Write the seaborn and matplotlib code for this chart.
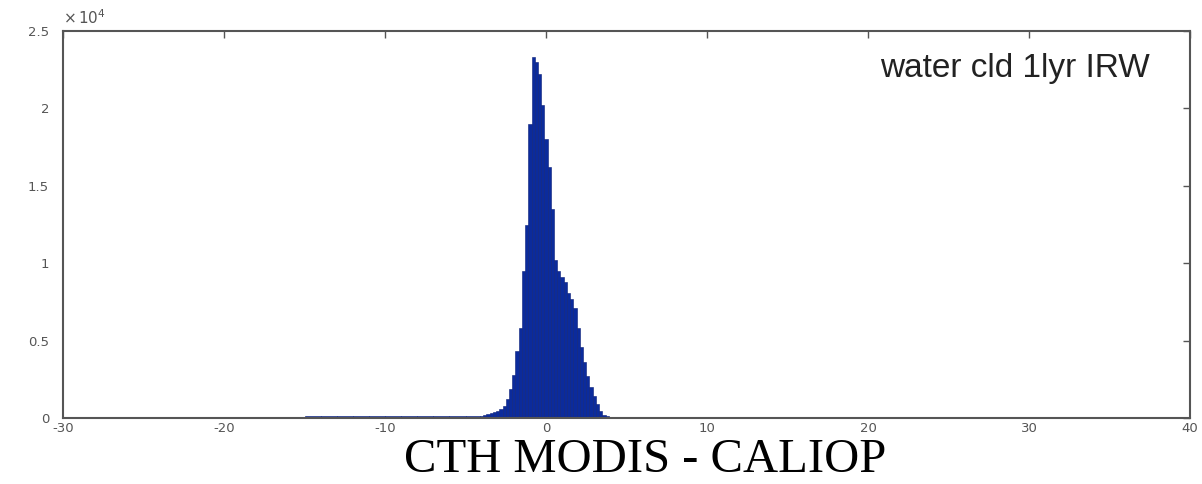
import numpy as np
import pandas as pd
import matplotlib
matplotlib.use("Agg")
import matplotlib.pyplot as plt
import seaborn as sns

# ---- data ----
# left tail: 1-unit bins from -18 to -5, then -5..-4.1
left_edges = [-18, -17, -16, -15, -14, -13, -12, -11, -10, -9, -8, -7, -6, -5, -4.1]
left_counts = [60, 40, 80, 110, 120, 120, 120, 120, 110, 110, 110, 110, 120, 150]
# core: 0.2-wide bins centred on -4.0 ... 3.8
core_counts = [150, 180, 230, 300, 370,
               450, 560, 800, 1250, 1900, 2800, 4300, 5800, 9500, 12500,
               19000, 23300, 23000, 22200, 20200, 18000, 16200, 13500, 10200, 9500,
               9100, 8800, 8100, 7700, 7100, 5800, 4600, 3600, 2700, 2000,
               1400, 900, 450, 200, 100]
# right tail: bins from 3.9 to 38
right_edges = [3.9, 5, 6, 7, 8, 9, 10, 11, 12, 13, 14, 15, 16, 17, 18, 19, 20,
               21, 22, 23, 24, 25, 26, 27, 28, 29, 30, 31, 32, 33, 34, 35, 36, 37, 38]
right_counts = [90, 70, 60, 40, 30, 30, 25, 25, 25, 25, 25, 25, 25, 25, 25, 25,
                25, 25, 25, 25, 25, 25, 25, 25, 25, 25, 25, 25, 25, 25, 25, 25, 20, 20]

x_ticks = [-30, -20, -10, 0, 10, 20, 30, 40]
y_ticks = [0, 5000, 10000, 15000, 20000, 25000]
y_tick_labels = ["0", "0.5", "1", "1.5", "2", "2.5"]
annot = "water cld 1lyr IRW"
xlabel = "CTH MODIS - CALIOP"

# ---- build histogram input ----
core_edges = [float(v) for v in np.round(np.arange(-4.1, 3.91, 0.2), 2)]
edges = [float(v) for v in left_edges[:-1]] + core_edges + [float(v) for v in right_edges[1:]]
counts = left_counts + core_counts + right_counts
edges_arr = np.array(edges, dtype=float)
centers = (edges_arr[:-1] + edges_arr[1:]) / 2
df = pd.DataFrame({"diff": centers, "count": np.array(counts, dtype=float)})

sns.set_style("white")
fig = plt.figure(figsize=(12.02, 4.84), dpi=100)
ax = fig.add_axes([63 / 1202, 1 - 418 / 484, (1190 - 63) / 1202, (418 - 31) / 484])

sns.histplot(data=df, x="diff", weights="count", bins=edges, stat="count",
             color="#0b2b9c", edgecolor="#0a1f78", linewidth=0.4, alpha=1.0, ax=ax)

ax.set_xlim(-30, 40)
ax.set_ylim(0, 25000)
ax.set_xticks(x_ticks)
ax.set_xticklabels([str(t) for t in x_ticks])
ax.set_yticks(y_ticks)
ax.set_yticklabels(y_tick_labels)
ax.set_xlabel("")
ax.set_ylabel("")
ax.tick_params(direction="in", length=5, width=1, colors="#555555",
               labelsize=9.5, labelcolor="#555555", top=True, right=True)
ax.tick_params(axis="y", pad=10)
ax.tick_params(axis="x", pad=3)
for s in ax.spines.values():
    s.set_visible(True)
    s.set_color("#555555")
    s.set_linewidth(1.5)

fig.text(63 / 1202, 1 - 18 / 484, r"$\times\,10^{4}$", fontsize=11, color="#555555",
         ha="left", va="center")

ax.text(0.9645, 0.904, annot, transform=ax.transAxes, ha="right", va="center",
        fontsize=24, family="Liberation Sans", color="#222222")

fig.text(645 / 1202, 1 - 460 / 484, xlabel, ha="center", va="center",
         fontsize=35, family="Liberation Serif", color="black")

fig.savefig("out.png", dpi=100)
